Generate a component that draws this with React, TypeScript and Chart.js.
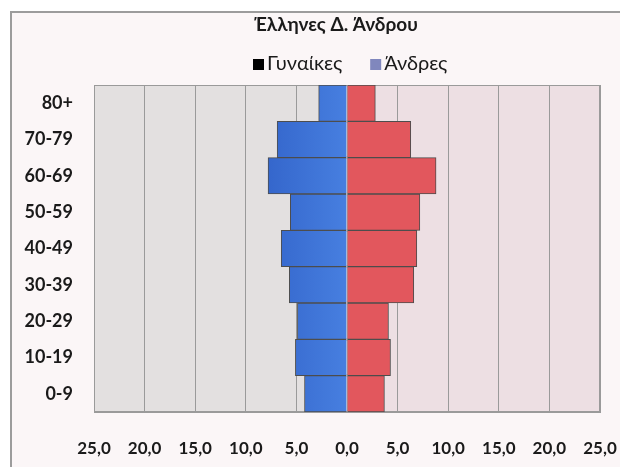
import React, { useEffect, useRef } from 'react';
import { Chart, registerables } from 'chart.js';

Chart.register(...registerables);

const TITLE = 'Έλληνες Δ. Άνδρου';
const AGE_GROUPS = ['80+', '70-79', '60-69', '50-59', '40-49', '30-39', '20-29', '10-19', '0-9'];
const WOMEN = [2.8, 6.3, 8.8, 7.2, 6.9, 6.6, 4.1, 4.3, 3.7];
const MEN = [2.8, 6.9, 7.8, 5.6, 6.5, 5.7, 4.9, 5.1, 4.2];
const SERIES_NAMES = ['Γυναίκες', 'Άνδρες'];
const LEGEND_SWATCHES = ['#000000', '#8087bd'];
const X_MIN = -25;
const X_MAX = 25;
const X_STEP = 5;

const FONT = 'Lato, "Noto Sans", sans-serif';

const headerPlugin = {
  id: 'header',
  afterDraw(chart: any) {
    const c = chart.ctx as CanvasRenderingContext2D;
    c.save();
    c.fillStyle = '#1a1a1a';
    c.textBaseline = 'alphabetic';
    c.font = `bold 19px ${FONT}`;
    c.textAlign = 'center';
    c.fillText(TITLE, 324, 18);
    c.font = `20px ${FONT}`;
    c.textAlign = 'left';
    let x = 241;
    SERIES_NAMES.forEach((name, i) => {
      c.fillStyle = LEGEND_SWATCHES[i];
      c.fillRect(x, 46, 11, 11);
      c.fillStyle = '#1a1a1a';
      c.fillText(name, x + 14, 57);
      x += 14 + c.measureText(name).width + 28;
    });
    c.restore();
  },
};

const plotBgPlugin = {
  id: 'plotBg',
  beforeDraw(chart: any) {
    const { ctx, chartArea, scales } = chart;
    if (!chartArea) return;
    const x0 = scales.x.getPixelForValue(0);
    ctx.save();
    ctx.fillStyle = '#e3e0e0';
    ctx.fillRect(chartArea.left, chartArea.top, x0 - chartArea.left, chartArea.bottom - chartArea.top);
    ctx.fillStyle = '#eddfe3';
    ctx.fillRect(x0, chartArea.top, chartArea.right - x0, chartArea.bottom - chartArea.top);
    ctx.restore();
  },
  beforeDatasetsDraw(chart: any) {
    const { ctx, chartArea } = chart;
    ctx.save();
    ctx.strokeStyle = '#9a9a9a';
    ctx.lineWidth = 1;
    ctx.strokeRect(chartArea.left + 0.5, chartArea.top + 0.5, chartArea.right - chartArea.left - 1, chartArea.bottom - chartArea.top - 1);
    ctx.restore();
  },
};

export default function App() {
  const ref = useRef<HTMLCanvasElement | null>(null);

  useEffect(() => {
    if (!ref.current) return;
    const blueFill = (ctx: any) => {
      const chart = ctx.chart;
      if (!chart.chartArea) return '#3f72d8';
      const x0 = chart.scales.x.getPixelForValue(0);
      const g = chart.ctx.createLinearGradient(x0 - 90, 0, x0, 0);
      g.addColorStop(0, '#3263c9');
      g.addColorStop(1, '#477fe0');
      return g;
    };
    const chart = new Chart(ref.current, {
      type: 'bar',
      data: {
        labels: AGE_GROUPS,
        datasets: [
          {
            label: SERIES_NAMES[0],
            data: WOMEN,
            backgroundColor: '#e2575d',
            borderColor: '#4d4d4d',
            borderWidth: 1,
            categoryPercentage: 1,
            barPercentage: 1,
          },
          {
            label: SERIES_NAMES[1],
            data: MEN.map((v) => -v),
            backgroundColor: blueFill,
            borderColor: '#4d4d4d',
            borderWidth: 1,
            categoryPercentage: 1,
            barPercentage: 1,
          },
        ],
      },
      options: {
        indexAxis: 'y',
        responsive: false,
        animation: false,
        layout: { padding: { top: 72, right: 20, bottom: 0, left: 0 } },
        plugins: {
          legend: { display: false },
          title: { display: false },
          tooltip: { enabled: false },
        },
        scales: {
          x: {
            stacked: true,
            min: X_MIN,
            max: X_MAX,
            afterFit: (s: any) => {
              s.height = 55;
              s.paddingLeft = 0;
              s.paddingRight = 0;
            },
            grid: { color: '#9a9a9a', lineWidth: 1, drawTicks: false },
            border: { display: true, color: '#9a9a9a' },
            ticks: {
              stepSize: X_STEP,
              autoSkip: false,
              maxRotation: 0,
              padding: 26,
              color: '#1a1a1a',
              font: { family: FONT, size: 17, weight: 'bold' },
              callback: (v: any) => Math.abs(Number(v)).toFixed(1).replace('.', ','),
            },
          },
          y: {
            stacked: true,
            afterFit: (s: any) => {
              s.width = 82;
              s.paddingTop = 0;
              s.paddingBottom = 0;
            },
            grid: { display: false, drawTicks: false },
            border: { display: true, color: '#9a9a9a' },
            ticks: {
              padding: 21,
              color: '#1a1a1a',
              font: { family: FONT, size: 18, weight: 'bold' },
            },
          },
        },
      },
      plugins: [plotBgPlugin, headerPlugin],
    } as any);
    return () => chart.destroy();
  }, []);

  return (
    <>
      <style>{'html,body{margin:0;padding:0;overflow:hidden;background:#ffffff;}'}</style>
      <div style={{ padding: '11px 0 0 10px', width: 620, height: 467, boxSizing: 'border-box', background: '#ffffff' }}>
        <div
          style={{
            borderLeft: '2px solid #9c9c9c',
            borderTop: '2px solid #9c9c9c',
            width: 608,
            height: 454,
            background: '#fbf6f7',
          }}
        >
          <canvas ref={ref} width={608} height={454} style={{ display: 'block' }} />
        </div>
      </div>
    </>
  );
}
